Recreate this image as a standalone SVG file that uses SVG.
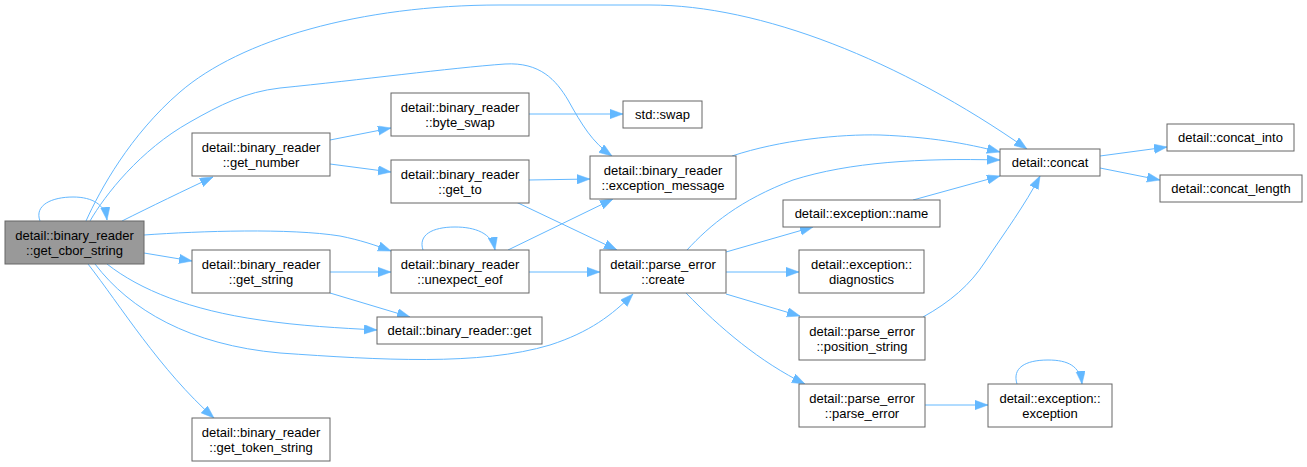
<svg xmlns="http://www.w3.org/2000/svg" width="1307" height="467" viewBox="0 0 1307 467">
<style>
.n rect{fill:#ffffff;stroke:#666666;stroke-width:1}
.n.hl rect{fill:#999999}
.n text{font-family:"Liberation Sans",Arial,sans-serif;font-size:13px;fill:#000000;text-anchor:middle}
.e path{fill:none;stroke:#63b8ff;stroke-width:1;marker-end:url(#ah)}
</style>
<defs>
<marker id="ah" markerUnits="userSpaceOnUse" markerWidth="14" markerHeight="10" refX="13" refY="4.7" orient="auto">
<path d="M0,0 L13,4.7 L0,9.4 z" fill="#63b8ff" stroke="#63b8ff" stroke-width="0.5"/>
</marker>
</defs>
<rect width="1307" height="467" fill="#ffffff"/>
<g id="connectors" class="e">
<path d="M40,221 C34,205 52,197 73,197 C93,197 105,205 107,220"/>
<path d="M86,221 C100,190 130,135 180,92 C240,40 360,5 500,5 L650,5 C760,5 900,60 1027,149"/>
<path d="M90,221 C105,195 140,150 190,122 C220,105 245,92 280,88 C360,80 450,68 505,64 C540,62 556,80 568,100 C582,125 592,142 612,156"/>
<path d="M122,221 C150,207 185,190 213,177"/>
<path d="M144,235 C200,231 290,228 340,236 C360,240 375,245 391,251"/>
<path d="M144,253 L192,261"/>
<path d="M107,264 C140,290 190,310 260,320 C300,326 340,328 377,330"/>
<path d="M95,264 C130,310 190,345 280,353 C380,360 480,366 550,345 C590,332 612,315 633,294"/>
<path d="M88,264 C120,305 160,370 214,418"/>
<path d="M330,140 L391,128"/>
<path d="M330,164 L391,172"/>
<path d="M529,114 L623,114"/>
<path d="M529,180 L590,179"/>
<path d="M516,202 L617,250"/>
<path d="M423,250 C418,235 432,227 455,227 C475,227 492,233 495,250"/>
<path d="M508,250 L613,199"/>
<path d="M529,272 L600,272"/>
<path d="M330,272 L391,272"/>
<path d="M330,293 L410,317"/>
<path d="M732,156 C780,140 840,134 880,135 C930,137 965,143 1000,152"/>
<path d="M687,250 C710,225 740,200 793,180 C850,162 920,158 1000,160"/>
<path d="M913,200 L1000,176"/>
<path d="M923,317 C950,302 970,285 985,262 C1005,232 1025,205 1040,176"/>
<path d="M726,252 L813,227"/>
<path d="M726,272 L799,272"/>
<path d="M726,294 L800,316"/>
<path d="M686,293 C720,328 760,362 805,384"/>
<path d="M925,405 L988,405"/>
<path d="M1017,384 C1012,368 1025,360 1048,360 C1068,360 1080,366 1082,384"/>
<path d="M1100,156 L1167,147"/>
<path d="M1100,168 L1160,180"/>
</g>
<g id="get_cbor_string" class="n hl"><rect x="5" y="221" width="139" height="43"/><text x="74.5" y="240">detail::binary_reader</text><text x="74.5" y="255">::get_cbor_string</text></g>
<g id="get_number" class="n"><rect x="192" y="133" width="138" height="43"/><text x="261" y="152">detail::binary_reader</text><text x="261" y="167">::get_number</text></g>
<g id="get_string" class="n"><rect x="192" y="250" width="138" height="43"/><text x="261" y="269">detail::binary_reader</text><text x="261" y="284">::get_string</text></g>
<g id="get_token_string" class="n"><rect x="192" y="418" width="138" height="43"/><text x="261" y="437">detail::binary_reader</text><text x="261" y="452">::get_token_string</text></g>
<g id="byte_swap" class="n"><rect x="391" y="93" width="138" height="43"/><text x="460" y="112">detail::binary_reader</text><text x="460" y="127">::byte_swap</text></g>
<g id="get_to" class="n"><rect x="391" y="160" width="138" height="43"/><text x="460" y="179">detail::binary_reader</text><text x="460" y="194">::get_to</text></g>
<g id="unexpect_eof" class="n"><rect x="391" y="250" width="138" height="43"/><text x="460" y="269">detail::binary_reader</text><text x="460" y="284">::unexpect_eof</text></g>
<g id="get" class="n"><rect x="377" y="317" width="165" height="27"/><text x="459.5" y="335">detail::binary_reader::get</text></g>
<g id="std_swap" class="n"><rect x="623" y="101" width="79" height="27"/><text x="662.5" y="119">std::swap</text></g>
<g id="exception_message" class="n"><rect x="590" y="156" width="146" height="43"/><text x="663" y="175">detail::binary_reader</text><text x="663" y="190">::exception_message</text></g>
<g id="create" class="n"><rect x="600" y="250" width="126" height="43"/><text x="663" y="269">detail::parse_error</text><text x="663" y="284">::create</text></g>
<g id="concat" class="n"><rect x="1000" y="149" width="100" height="27"/><text x="1050" y="167">detail::concat</text></g>
<g id="name" class="n"><rect x="783" y="200" width="157" height="27"/><text x="861.5" y="218">detail::exception::name</text></g>
<g id="diagnostics" class="n"><rect x="799" y="250" width="125" height="43"/><text x="861.5" y="269">detail::exception::</text><text x="861.5" y="284">diagnostics</text></g>
<g id="position_string" class="n"><rect x="799" y="317" width="126" height="43"/><text x="862" y="336">detail::parse_error</text><text x="862" y="351">::position_string</text></g>
<g id="parse_error" class="n"><rect x="799" y="384" width="126" height="43"/><text x="862" y="403">detail::parse_error</text><text x="862" y="418">::parse_error</text></g>
<g id="exception" class="n"><rect x="988" y="384" width="124" height="43"/><text x="1050" y="403">detail::exception::</text><text x="1050" y="418">exception</text></g>
<g id="concat_into" class="n"><rect x="1167" y="124" width="127" height="27"/><text x="1230.5" y="142">detail::concat_into</text></g>
<g id="concat_length" class="n"><rect x="1160" y="175" width="142" height="27"/><text x="1231" y="193">detail::concat_length</text></g>
</svg>
